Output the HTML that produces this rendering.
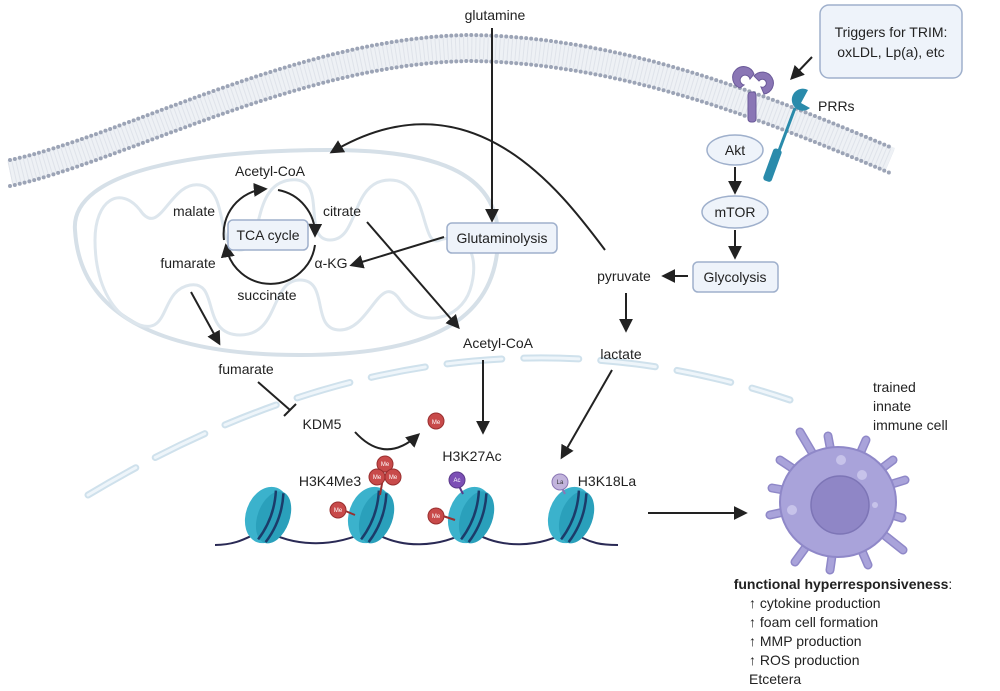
<!DOCTYPE html>
<html><head><meta charset="utf-8"><style>
html,body{margin:0;padding:0;background:#fff}
svg{display:block}
text{font-family:"Liberation Sans",Arial,sans-serif;font-size:14px;fill:#222}
</style></head><body>
<svg width="1000" height="691" viewBox="0 0 1000 691" xmlns="http://www.w3.org/2000/svg">
<defs>
<marker id="ah" viewBox="0 0 10 10" refX="8" refY="5" markerWidth="7" markerHeight="7" orient="auto-start-reverse"><path d="M0,0 L10,5 L0,10 z" fill="#222"/></marker>
</defs>
<!-- membrane -->
<path d="M10,173 C120,150 300,50 470,48 C620,50 760,105 890,160" fill="none" stroke="#eef1f5" stroke-width="26"/>
<path d="M10,173 C120,150 300,50 470,48 C620,50 760,105 890,160" fill="none" stroke="#dfe3ea" stroke-width="22" stroke-dasharray="1 3"/>
<path d="M10,160 C120,137 300,37 470,35 C620,37 760,92 890,147" fill="none" stroke="#9ca4b6" stroke-width="4" stroke-linecap="round" stroke-dasharray="0 5"/>
<path d="M10,186 C120,163 300,63 470,61 C620,63 760,118 890,173" fill="none" stroke="#9ca4b6" stroke-width="4" stroke-linecap="round" stroke-dasharray="0 5"/>
<!-- mitochondrion -->
<path d="M75,230 C70,170 200,150 330,150 C430,150 500,170 498,240 C496,320 430,355 300,355 C170,355 80,320 75,230 Z" fill="none" stroke="#d6e0e8" stroke-width="4"/>
<path d="M95,240 C95,200 120,185 140,210 C160,240 170,180 200,185 C230,190 215,250 240,250 C265,250 250,185 290,180 C330,175 300,240 330,240 C360,240 350,180 390,180 C430,180 420,250 440,240 C470,230 480,260 470,290 C460,320 420,330 400,300 C380,270 370,330 340,330 C310,330 330,280 300,280 C270,280 280,335 240,335 C200,335 220,280 190,285 C160,290 170,335 140,325 C110,315 95,280 95,240 Z" fill="none" stroke="#dde6ed" stroke-width="3"/>
<!-- nuclear envelope -->
<path d="M88,495 Q442,282 790,400" fill="none" stroke="#cfe1ec" stroke-width="7" stroke-linecap="round" stroke-dasharray="55 22"/>
<path d="M88,495 Q442,282 790,400" fill="none" stroke="#eef5fa" stroke-width="3" stroke-linecap="round" stroke-dasharray="55 22"/>
<!-- receptors -->
<g fill="#8a76b5" stroke="#6b5a99" stroke-width="1">
<rect x="748" y="92" width="8" height="30" rx="3"/>
<path d="M740,88 a11,11 0 1 1 14,-14 l-4,5 a5,5 0 1 0 -6,6 z"/>
<path d="M754,76 a11,11 0 1 1 10,18 l-3,-7 a4,4 0 1 0 -2,-6 z"/>
</g>
<path d="M795,108 L768,180" stroke="#2a8bab" stroke-width="3"/>
<rect x="768" y="148" width="9" height="34" rx="3" transform="rotate(20 772 165)" fill="#2a8bab"/>
<path d="M808,90 a11,11 0 1 0 2,18 l-9,-5 z" fill="#2a8bab"/>
<!-- triggers box -->
<rect x="820" y="5" width="142" height="73" rx="9" fill="#eef3fa" stroke="#9fb0cc" stroke-width="1.5"/>
<text x="891" y="37" text-anchor="middle">Triggers for TRIM:</text>
<text x="891" y="57" text-anchor="middle">oxLDL, Lp(a), etc</text>
<line x1="812" y1="57" x2="792" y2="78" stroke="#222" stroke-width="2" marker-end="url(#ah)"/>
<text x="818" y="111">PRRs</text>
<!-- Akt mTOR glycolysis -->
<ellipse cx="735" cy="150" rx="28" ry="15" fill="#eef3fa" stroke="#9fb0cc" stroke-width="1.5"/>
<text x="735" y="155" text-anchor="middle">Akt</text>
<line x1="735" y1="167" x2="735" y2="192" stroke="#222" stroke-width="2" marker-end="url(#ah)"/>
<ellipse cx="735" cy="212" rx="33" ry="16" fill="#eef3fa" stroke="#9fb0cc" stroke-width="1.5"/>
<text x="735" y="217" text-anchor="middle">mTOR</text>
<line x1="735" y1="230" x2="735" y2="257" stroke="#222" stroke-width="2" marker-end="url(#ah)"/>
<rect x="693" y="262" width="85" height="30" rx="5" fill="#eef3fa" stroke="#9fb0cc" stroke-width="1.5"/>
<text x="735" y="282" text-anchor="middle">Glycolysis</text>
<line x1="688" y1="276" x2="664" y2="276" stroke="#222" stroke-width="2" marker-end="url(#ah)"/>
<text x="624" y="281" text-anchor="middle">pyruvate</text>
<line x1="626" y1="293" x2="626" y2="330" stroke="#222" stroke-width="2" marker-end="url(#ah)"/>
<text x="621" y="359" text-anchor="middle">lactate</text>
<line x1="612" y1="370" x2="562" y2="457" stroke="#222" stroke-width="2" marker-end="url(#ah)"/>
<path d="M605,250 C560,190 470,70 332,152" fill="none" stroke="#222" stroke-width="2" marker-end="url(#ah)"/>
<!-- glutamine -->
<text x="495" y="20" text-anchor="middle">glutamine</text>
<line x1="492" y1="28" x2="492" y2="220" stroke="#222" stroke-width="2" marker-end="url(#ah)"/>
<rect x="447" y="223" width="110" height="30" rx="5" fill="#eef3fa" stroke="#9fb0cc" stroke-width="1.5"/>
<text x="502" y="243" text-anchor="middle">Glutaminolysis</text>
<line x1="444" y1="237" x2="352" y2="265" stroke="#222" stroke-width="2" marker-end="url(#ah)"/>
<!-- TCA -->
<text x="270" y="176" text-anchor="middle">Acetyl-CoA</text>
<text x="194" y="216" text-anchor="middle">malate</text>
<text x="342" y="216" text-anchor="middle">citrate</text>
<text x="188" y="268" text-anchor="middle">fumarate</text>
<text x="331" y="268" text-anchor="middle">α-KG</text>
<text x="267" y="300" text-anchor="middle">succinate</text>
<path d="M224,240 A45,45 0 0 1 265,189" fill="none" stroke="#222" stroke-width="2" marker-end="url(#ah)"/>
<path d="M278,190 A45,45 0 0 1 315,235" fill="none" stroke="#222" stroke-width="2" marker-end="url(#ah)"/>
<path d="M315,245 A45,45 0 0 1 226,246" fill="none" stroke="#222" stroke-width="2" marker-end="url(#ah)"/>
<rect x="228" y="220" width="80" height="30" rx="5" fill="#eef3fa" stroke="#9fb0cc" stroke-width="1.5"/>
<text x="268" y="240" text-anchor="middle">TCA cycle</text>
<line x1="367" y1="222" x2="458" y2="327" stroke="#222" stroke-width="2" marker-end="url(#ah)"/>
<text x="498" y="348" text-anchor="middle">Acetyl-CoA</text>
<line x1="483" y1="360" x2="483" y2="432" stroke="#222" stroke-width="2" marker-end="url(#ah)"/>
<line x1="191" y1="292" x2="219" y2="343" stroke="#222" stroke-width="2" marker-end="url(#ah)"/>
<text x="246" y="374" text-anchor="middle">fumarate</text>
<line x1="258" y1="382" x2="290" y2="410" stroke="#222" stroke-width="2"/>
<line x1="284" y1="416" x2="296" y2="404" stroke="#222" stroke-width="2"/>
<text x="322" y="429" text-anchor="middle">KDM5</text>
<path d="M355,432 Q385,465 418,435" fill="none" stroke="#222" stroke-width="2" marker-end="url(#ah)"/>
<circle cx="436" cy="421" r="8" fill="#c84a4a" stroke="#992f2f"/>
<text x="436" y="424" text-anchor="middle" style="font-size:6px;fill:#fff">Me</text>
<text x="330" y="486" text-anchor="middle">H3K4Me3</text>
<text x="472" y="461" text-anchor="middle">H3K27Ac</text>
<text x="607" y="486" text-anchor="middle">H3K18La</text>
<!-- DNA -->
<path d="M215,545 C240,545 250,535 265,530 C290,545 330,550 370,530 C400,550 440,548 470,530 C500,550 540,548 570,530 C590,545 605,545 618,545" fill="none" stroke="#2a2a55" stroke-width="2"/>
<g>
<g transform="translate(267,515) rotate(20)"><ellipse rx="21" ry="29" fill="#3bb2cc"/><ellipse cx="7" rx="16" ry="27" fill="#2aa0bb"/><path d="M0,-26 Q8,0 0,26 M8,-26 Q16,0 8,26" stroke="#1b3c6a" stroke-width="2.5" fill="none"/></g>
<g transform="translate(370,515) rotate(20)"><ellipse rx="21" ry="29" fill="#3bb2cc"/><ellipse cx="7" rx="16" ry="27" fill="#2aa0bb"/><path d="M0,-26 Q8,0 0,26 M8,-26 Q16,0 8,26" stroke="#1b3c6a" stroke-width="2.5" fill="none"/></g>
<g transform="translate(470,515) rotate(20)"><ellipse rx="21" ry="29" fill="#3bb2cc"/><ellipse cx="7" rx="16" ry="27" fill="#2aa0bb"/><path d="M0,-26 Q8,0 0,26 M8,-26 Q16,0 8,26" stroke="#1b3c6a" stroke-width="2.5" fill="none"/></g>
<g transform="translate(570,515) rotate(20)"><ellipse rx="21" ry="29" fill="#3bb2cc"/><ellipse cx="7" rx="16" ry="27" fill="#2aa0bb"/><path d="M0,-26 Q8,0 0,26 M8,-26 Q16,0 8,26" stroke="#1b3c6a" stroke-width="2.5" fill="none"/></g>
</g>
<g stroke-width="2">
<line x1="383" y1="478" x2="380" y2="495" stroke="#992f2f"/>
<line x1="343" y1="510" x2="355" y2="515" stroke="#992f2f"/>
<line x1="443" y1="516" x2="455" y2="520" stroke="#992f2f"/>
<line x1="457" y1="482" x2="463" y2="494" stroke="#5a3a8a"/>
<line x1="560" y1="484" x2="565" y2="494" stroke="#8a76b5"/>
</g>
<g>
<circle cx="385" cy="464" r="8" fill="#c84a4a" stroke="#992f2f"/>
<circle cx="377" cy="477" r="8" fill="#c84a4a" stroke="#992f2f"/>
<circle cx="393" cy="477" r="8" fill="#c84a4a" stroke="#992f2f"/>
<circle cx="338" cy="510" r="8" fill="#c84a4a" stroke="#992f2f"/>
<circle cx="436" cy="516" r="8" fill="#c84a4a" stroke="#992f2f"/>
<circle cx="457" cy="480" r="8" fill="#7c4fb5" stroke="#5a3a8a"/>
<circle cx="560" cy="482" r="8" fill="#c2b4dc" stroke="#8a76b5"/>
</g>
<text x="385" y="466" text-anchor="middle" style="font-size:6px;fill:#fff">Me</text>
<text x="377" y="479" text-anchor="middle" style="font-size:6px;fill:#fff">Me</text>
<text x="393" y="479" text-anchor="middle" style="font-size:6px;fill:#fff">Me</text>
<text x="338" y="512" text-anchor="middle" style="font-size:6px;fill:#fff">Me</text>
<text x="436" y="518" text-anchor="middle" style="font-size:6px;fill:#fff">Me</text>
<text x="457" y="482" text-anchor="middle" style="font-size:6px;fill:#fff">Ac</text>
<text x="560" y="484" text-anchor="middle" style="font-size:6px;fill:#333">La</text>
<line x1="648" y1="513" x2="745" y2="513" stroke="#222" stroke-width="2" marker-end="url(#ah)"/>
<!-- cell -->
<g stroke="#8f88c8" stroke-width="9" stroke-linecap="round">
<line x1="840" y1="500" x2="800" y2="432"/>
<line x1="840" y1="500" x2="828" y2="436"/>
<line x1="840" y1="500" x2="866" y2="440"/>
<line x1="840" y1="500" x2="893" y2="460"/>
<line x1="840" y1="500" x2="905" y2="480"/>
<line x1="840" y1="500" x2="902" y2="518"/>
<line x1="840" y1="500" x2="903" y2="550"/>
<line x1="840" y1="500" x2="868" y2="565"/>
<line x1="840" y1="500" x2="830" y2="570"/>
<line x1="840" y1="500" x2="795" y2="562"/>
<line x1="840" y1="500" x2="770" y2="515"/>
<line x1="840" y1="500" x2="772" y2="488"/>
<line x1="840" y1="500" x2="780" y2="460"/>
</g>
<g stroke="#a9a3da" stroke-width="6" stroke-linecap="round">
<line x1="840" y1="500" x2="800" y2="432"/>
<line x1="840" y1="500" x2="828" y2="436"/>
<line x1="840" y1="500" x2="866" y2="440"/>
<line x1="840" y1="500" x2="893" y2="460"/>
<line x1="840" y1="500" x2="905" y2="480"/>
<line x1="840" y1="500" x2="902" y2="518"/>
<line x1="840" y1="500" x2="903" y2="550"/>
<line x1="840" y1="500" x2="868" y2="565"/>
<line x1="840" y1="500" x2="830" y2="570"/>
<line x1="840" y1="500" x2="795" y2="562"/>
<line x1="840" y1="500" x2="770" y2="515"/>
<line x1="840" y1="500" x2="772" y2="488"/>
<line x1="840" y1="500" x2="780" y2="460"/>
</g>
<ellipse cx="838" cy="502" rx="58" ry="55" fill="#a9a3da" stroke="#8f88c8" stroke-width="2"/>
<circle cx="840" cy="505" r="29" fill="#8f86c6" stroke="#7d75b6" stroke-width="1.5"/>
<circle cx="841" cy="460" r="5" fill="#c7c3ea"/><circle cx="862" cy="475" r="5" fill="#c7c3ea"/><circle cx="792" cy="510" r="5" fill="#c7c3ea"/><circle cx="875" cy="505" r="3" fill="#c7c3ea"/>
<text x="873" y="392">trained</text>
<text x="873" y="411">innate</text>
<text x="873" y="430">immune cell</text>
<text x="843" y="589" text-anchor="middle" style="font-weight:bold">functional hyperresponsiveness<tspan style="font-weight:normal">:</tspan></text>
<text x="749" y="608">↑ cytokine production</text>
<text x="749" y="627">↑ foam cell formation</text>
<text x="749" y="646">↑ MMP production</text>
<text x="749" y="665">↑ ROS production</text>
<text x="749" y="684">Etcetera</text>
</svg>
</body></html>
